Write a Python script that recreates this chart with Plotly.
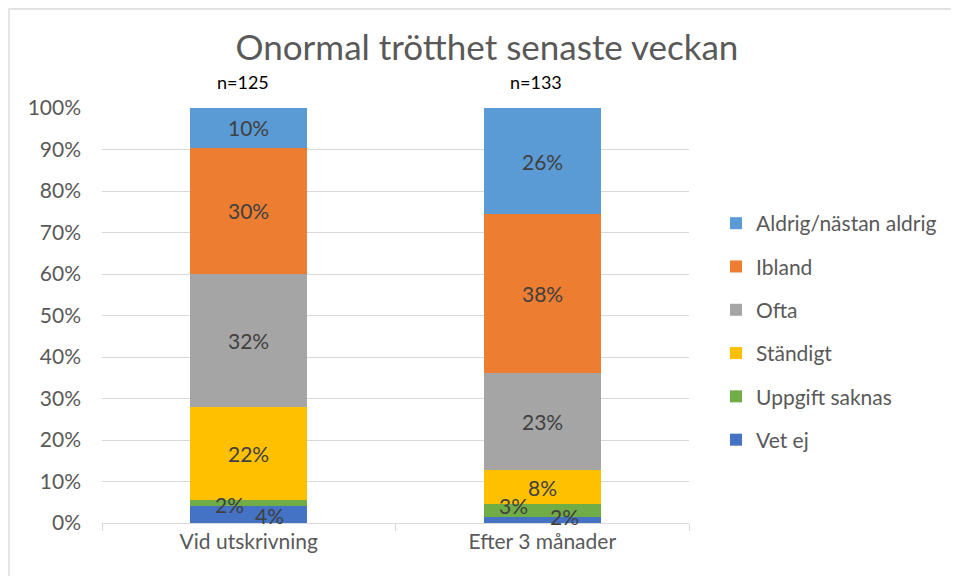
import plotly.graph_objects as go

categories = ["Vid utskrivning", "Efter 3 månader"]
n_labels = ["n=125", "n=133"]
series_names = ["Vet ej", "Uppgift saknas", "Ständigt", "Ofta", "Ibland", "Aldrig/nästan aldrig"]
vet_ej = [4.0, 1.5]
uppgift_saknas = [1.6, 3.0]
standigt = [22.4, 8.3]
ofta = [32.0, 23.3]
ibland = [30.4, 38.3]
aldrig = [9.6, 25.6]
tick_vals = [0, 10, 20, 30, 40, 50, 60, 70, 80, 90, 100]
tick_text = ["0%", "10%", "20%", "30%", "40%", "50%", "60%", "70%", "80%", "90%", "100%"]

series_values = [vet_ej, uppgift_saknas, standigt, ofta, ibland, aldrig]
colors = ["#4472C4", "#70AD47", "#FFC000", "#A5A5A5", "#ED7D31", "#5B9BD5"]
# label pixel shifts for small segments (style only): [series][category] -> (xshift, yshift)
label_shift = [
    [(21, -1), (22, 3)],
    [(-19, -1), (-29, 5)],
    [(0, 0), (0, 0)],
    [(0, 0), (0, 0)],
    [(0, 0), (0, 0)],
    [(0, 0), (0, 0)],
]

FONT = "Lato"
fig = go.Figure()
n_series = len(series_names)
for i, (name, vals) in enumerate(zip(series_names, series_values)):
    fig.add_trace(go.Bar(
        x=categories, y=vals, name=name, marker=dict(color=colors[i], line=dict(width=0)),
        legendgroup=name, legendrank=n_series - i, hoverinfo="skip",
    ))

annotations = []
cum = [0.0] * len(categories)
for i, vals in enumerate(series_values):
    for j, v in enumerate(vals):
        center = cum[j] + v / 2
        xs, ys = label_shift[i][j]
        annotations.append(dict(
            x=categories[j], y=center, xref="x", yref="y", text=f"{round(v):.0f}%",
            showarrow=False, xshift=xs, yshift=ys,
            font=dict(family=FONT, size=21, color="#404040"),
        ))
        cum[j] += v

for j, t in enumerate(n_labels):
    annotations.append(dict(
        x=categories[j], y=100, xref="x", yref="y", text=t, showarrow=False,
        yshift=26, xshift=-6, font=dict(family=FONT, size=18, color="#000000"),
    ))

fig.update_layout(
    width=959, height=576,
    margin=dict(l=94, r=278, t=100, b=61),
    paper_bgcolor="white", plot_bgcolor="white",
    barmode="stack", bargap=0.6,
    title=dict(text="Onormal trötthet senaste veckan", x=479 / 959, xanchor="center",
               y=1 - 40 / 576, yanchor="middle", yref="container",
               font=dict(family=FONT, size=35, color="#595959")),
    xaxis=dict(showgrid=False, showline=True, linecolor="#D9D9D9", linewidth=1.3,
               ticks="outside", tickson="boundaries", ticklen=7, tickcolor="#D9D9D9",
               tickfont=dict(family=FONT, size=21, color="#595959")),
    yaxis=dict(range=[0, 100], tickvals=tick_vals, ticktext=tick_text,
               showgrid=True, gridcolor="#D9D9D9", gridwidth=1.3, zeroline=False,
               showline=False, ticks="", ticklabelstandoff=20,
               tickfont=dict(family=FONT, size=21, color="#595959")),
    legend=dict(x=(716 - 102) / 587, xref="paper", xanchor="left", y=0.4614, yanchor="middle",
                traceorder="grouped", tracegroupgap=13,
                font=dict(family=FONT, size=21, color="#595959"), itemwidth=30),
    annotations=annotations,
    shapes=[dict(type="rect", xref="paper", yref="paper",
                 x0=(9 - 102) / 587, x1=1.5, y0=-0.5, y1=(523 - 9) / 415,
                 line=dict(color="#D9D9D9", width=1.3), layer="below")],
)

fig.write_html("out.html")
